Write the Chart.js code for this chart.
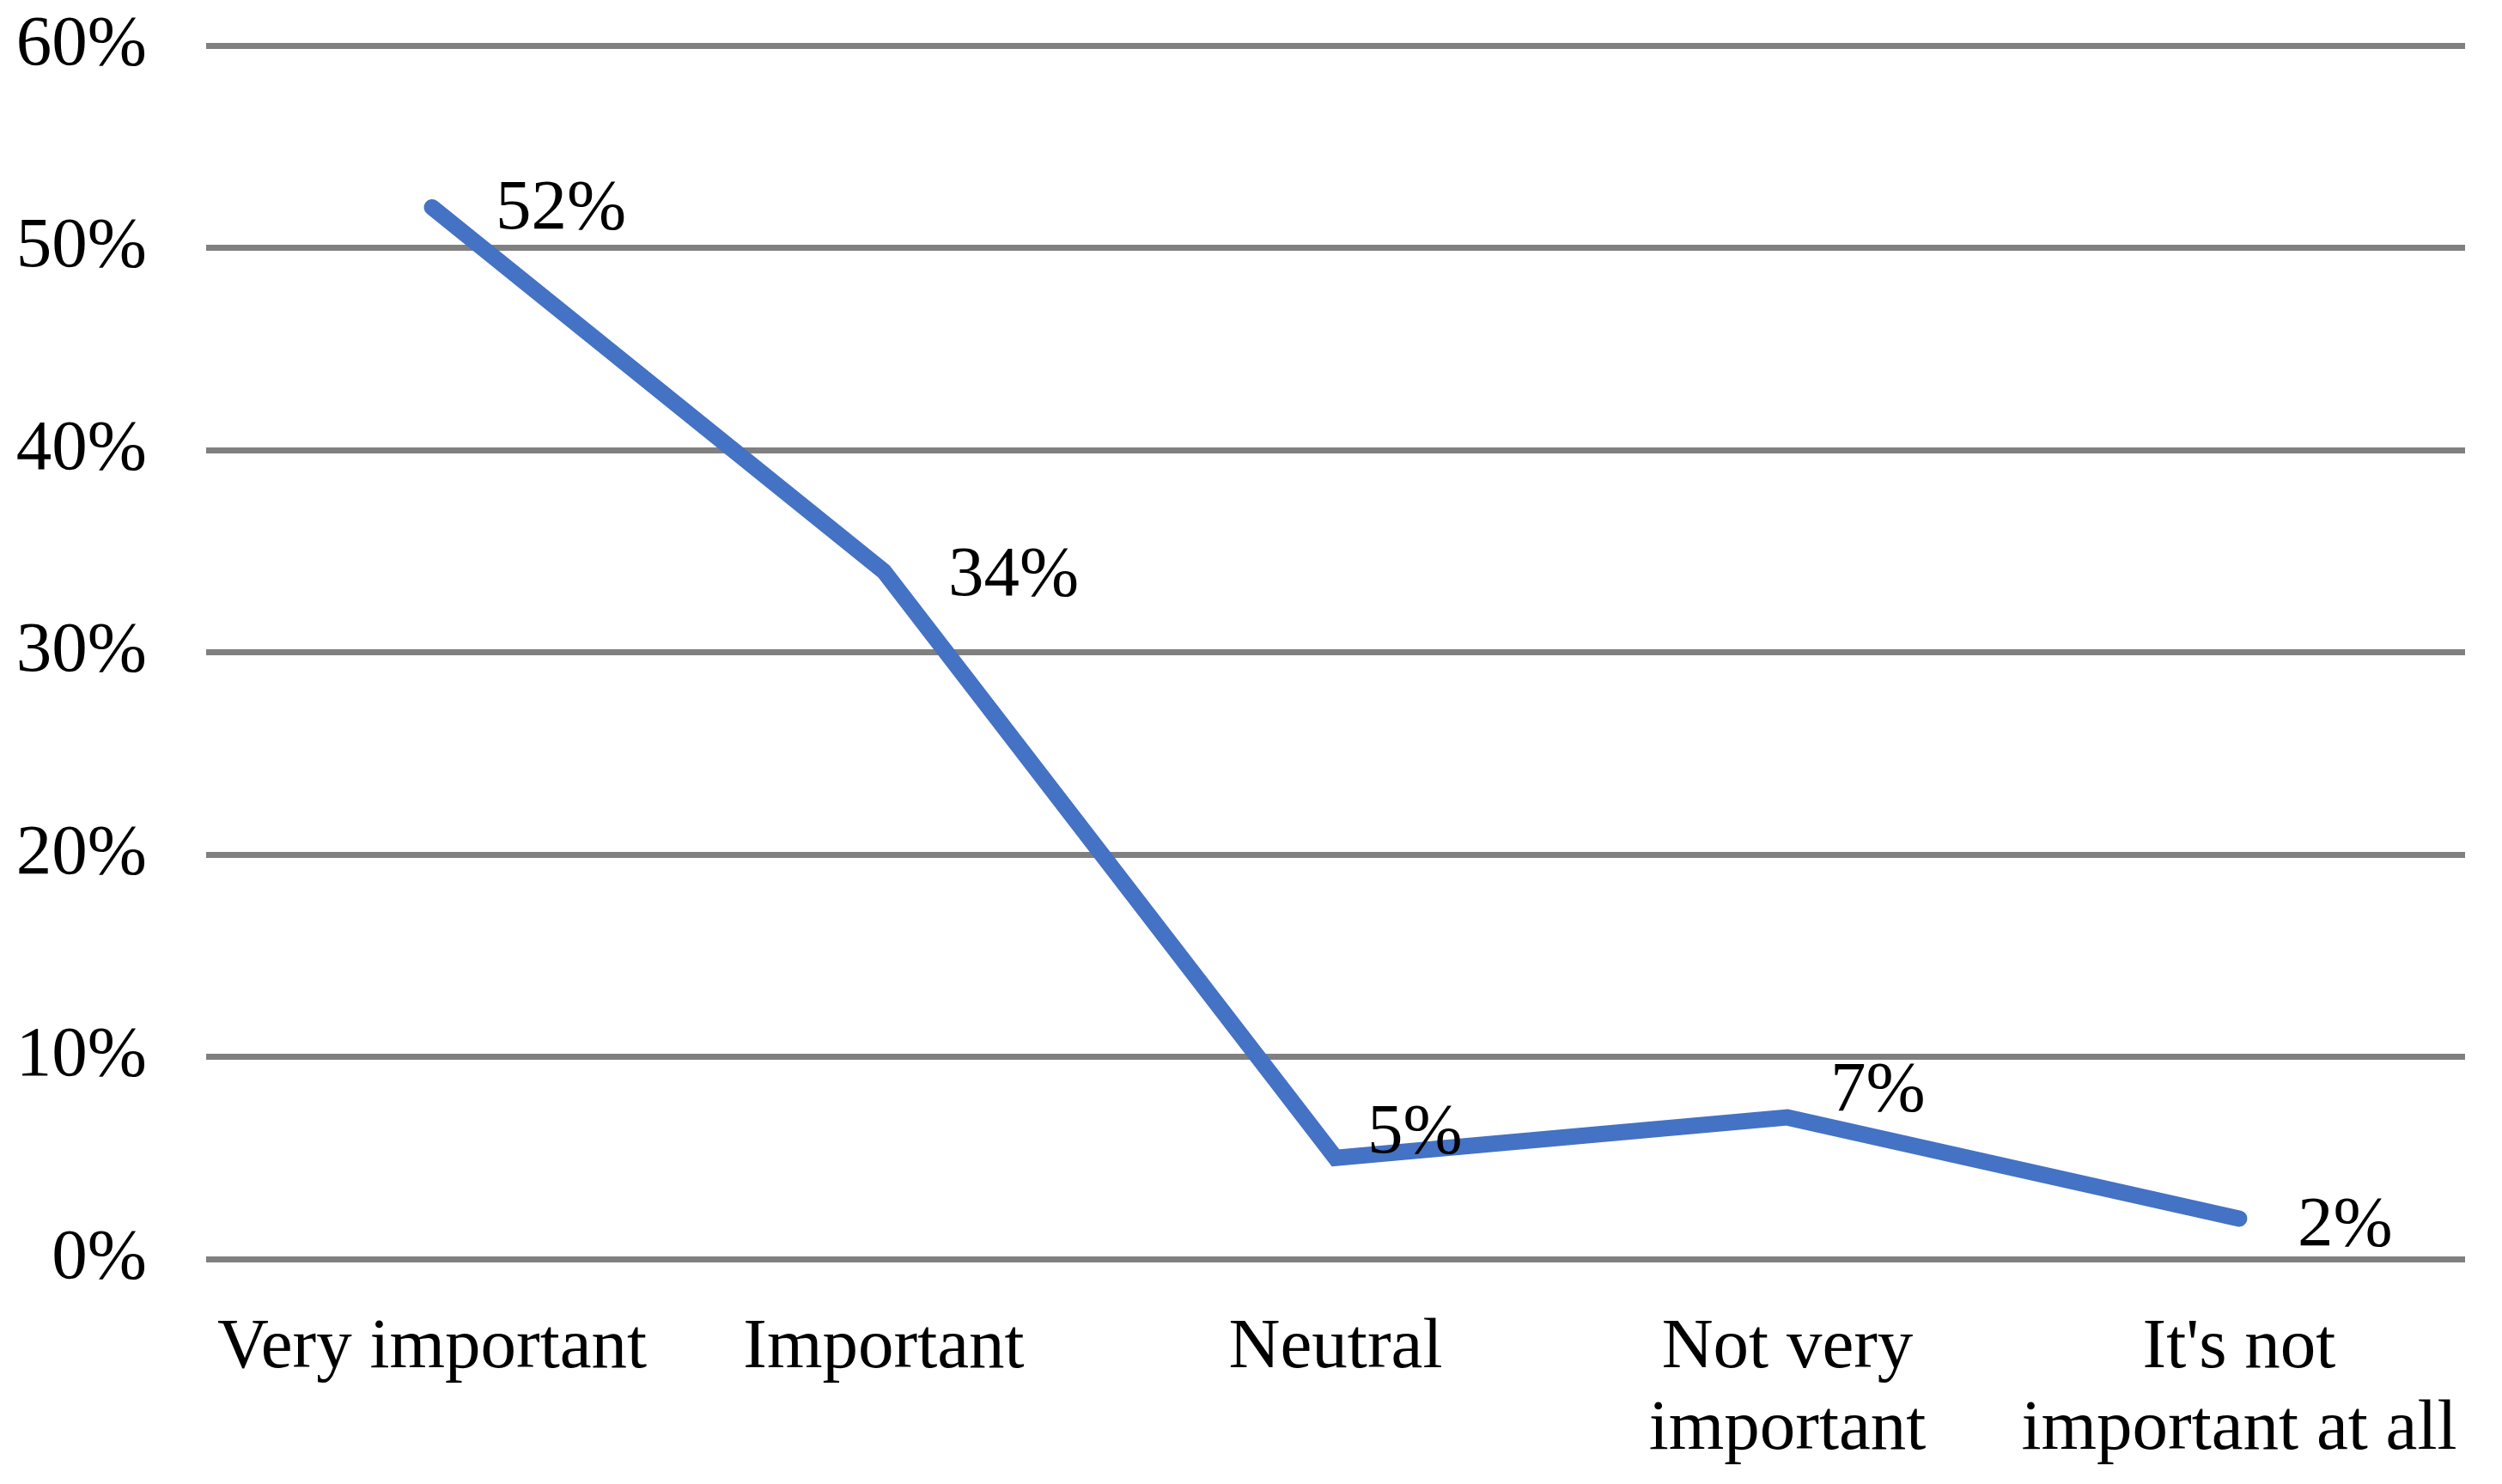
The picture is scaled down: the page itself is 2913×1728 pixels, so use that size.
<!DOCTYPE html>
<html>
<head>
<meta charset="utf-8">
<script src="https://cdn.jsdelivr.net/npm/chart.js@4"></script>
<style>
  html, body { margin: 0; padding: 0; background: #fff; }
  #wrap { width: 2913px; height: 1728px; }
</style>
</head>
<body>
<div id="wrap"><canvas id="chart"></canvas></div>
<script>
const categories = [
    "Very important",
    "Important",
    "Neutral",
    ["Not very", "important"],
    ["It's not", "important at all"]
];
const shares = [52, 34, 5, 7, 2];
const yTicks = [0, 10, 20, 30, 40, 50, 60];

// where each value label sits relative to its point (px)
const labelOffsets = [[74, 3], [75, 6], [37, -28], [50, -30], [68, 9]];

const font = "'Liberation Serif', 'Times New Roman', serif";

const valueLabels = {
    id: "valueLabels",
    afterDatasetsDraw(chart) {
        const ctx = chart.ctx;
        const meta = chart.getDatasetMeta(0);
        ctx.save();
        ctx.font = "83px " + font;
        ctx.fillStyle = "#000";
        ctx.textAlign = "left";
        ctx.textBaseline = "middle";
        meta.data.forEach((pt, i) => {
            const [dx, dy] = labelOffsets[i];
            ctx.fillText(shares[i] + "%", pt.x + dx, pt.y + dy);
        });
        ctx.restore();
    }
};

new Chart(document.getElementById("chart"), {
    type: "line",
    data: {
        labels: categories,
        datasets: [{
            data: shares,
            borderColor: "#4472C4",
            borderWidth: 19,
            borderCapStyle: "round",
            borderJoinStyle: "miter",
            pointRadius: 0,
            tension: 0,
            fill: false
        }]
    },
    options: {
        responsive: true,
        maintainAspectRatio: false,
        animation: false,
        layout: { autoPadding: false, padding: { top: 53, right: 43, bottom: 0, left: 0 } },
        plugins: {
            legend: { display: false },
            tooltip: { enabled: false }
        },
        scales: {
            x: {
                offset: true,
                afterFit: s => { s.height = 262; s.paddingLeft = 0; s.paddingRight = 0; },
                grid: { display: false },
                border: { display: false },
                ticks: {
                    color: "#000",
                    font: { family: font, size: 83, lineHeight: 1.15 },
                    padding: 48,
                    maxRotation: 0,
                    autoSkip: false
                }
            },
            y: {
                min: 0,
                max: 60,
                afterBuildTicks: s => { s.ticks = yTicks.map(v => ({ value: v })); },
                afterFit: s => { s.width = 240; s.paddingTop = 0; s.paddingBottom = 0; },
                grid: { color: "#808080", lineWidth: 7, drawTicks: false },
                border: { display: false },
                ticks: {
                    color: "#000",
                    font: { family: font, size: 83 },
                    padding: 69,
                    callback: v => v + "%"
                }
            }
        }
    },
    plugins: [valueLabels]
});
</script>
</body>
</html>
